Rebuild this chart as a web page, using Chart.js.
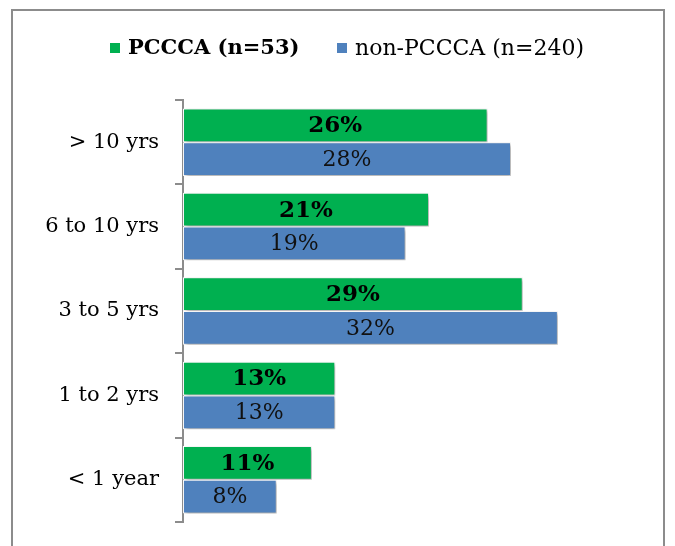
<!DOCTYPE html>
<html lang="en">
<head>
<meta charset="utf-8">
<title>PCCCA vs non-PCCCA</title>
<script src="https://cdn.jsdelivr.net/npm/chart.js"></script>
<style>
  body{margin:0;background:#fff;font-family:"DejaVu Serif",serif}
  #wrap{position:relative;width:675px;height:546px;overflow:hidden}
  #frame{position:absolute;left:11px;top:9px;width:654px;height:560px;border:2px solid #8c8c8c;box-sizing:border-box}
  canvas{position:absolute;left:0;top:0}
</style>
</head>
<body>
<div id="wrap">
<div id="frame"></div>
<canvas id="chart" width="675" height="546"></canvas>
</div>
<script>
const categories = ['> 10 yrs','6 to 10 yrs','3 to 5 yrs','1 to 2 yrs','< 1 year'];
const pcccaValues = [26,21,29,13,11];
const nonPcccaValues = [28,19,32,13,8];
const seriesNames = ['PCCCA (n=53)','non-PCCCA (n=240)'];

const FONT = '"DejaVu Serif", serif';

// soft drop shadow under the bars, like the office chart
const shadowPlugin = {
  id: 'shadow',
  beforeDatasetsDraw(chart) {
    const ctx = chart.ctx;
    ctx.save();
    ctx.shadowColor = 'rgba(0,0,0,0.35)';
    ctx.shadowBlur = 4;
    ctx.shadowOffsetX = 2;
    ctx.shadowOffsetY = 2;
  },
  afterDatasetsDraw(chart) {
    chart.ctx.restore();
  }
};

// value labels in the middle of each bar
const valueLabels = {
  id: 'valueLabels',
  afterDatasetsDraw(chart) {
    const ctx = chart.ctx;
    ctx.save();
    ctx.textAlign = 'center';
    ctx.textBaseline = 'middle';
    chart.data.datasets.forEach((ds, i) => {
      const meta = chart.getDatasetMeta(i);
      ctx.font = (i === 0 ? 'bold 23px ' : '22px ') + FONT;
      ctx.fillStyle = i === 0 ? '#000' : '#111';
      meta.data.forEach((bar, j) => {
        ctx.fillText(ds.data[j] + '%', (bar.x + bar.base) / 2, bar.y + 1);
      });
    });
    ctx.restore();
  }
};

// legend: first entry bold, second regular
const topLegend = {
  id: 'topLegend',
  afterDraw(chart) {
    const ctx = chart.ctx;
    const items = [
      { x: 110, font: 'bold 21px ' + FONT },
      { x: 337, font: '22px ' + FONT }
    ];
    ctx.save();
    ctx.textBaseline = 'middle';
    chart.data.datasets.forEach((ds, i) => {
      const it = items[i];
      ctx.fillStyle = ds.backgroundColor;
      ctx.fillRect(it.x, 43, 10, 10);
      ctx.fillStyle = '#000';
      ctx.font = it.font;
      ctx.fillText(ds.label, it.x + 18, 49);
    });
    ctx.restore();
  }
};

new Chart(document.getElementById('chart'), {
  type: 'bar',
  data: {
    labels: categories,
    datasets: [
      { label: seriesNames[0], data: pcccaValues, backgroundColor: '#00b050', borderColor: '#fff', borderWidth: 1, borderSkipped: false },
      { label: seriesNames[1], data: nonPcccaValues, backgroundColor: '#4f81bd', borderColor: '#fff', borderWidth: 1, borderSkipped: false }
    ]
  },
  options: {
    indexAxis: 'y',
    responsive: false,
    animation: false,
    layout: { padding: { top: 100, right: 82, bottom: 24, left: 0 } },
    datasets: { bar: { categoryPercentage: 0.8, barPercentage: 1 } },
    plugins: {
      legend: { display: false },
      tooltip: { enabled: false }
    },
    scales: {
      x: { display: false, min: 0, max: 35 },
      y: {
        afterFit(scale) {
          scale.width = 183;
          scale.paddingTop = 0;
          scale.paddingBottom = 0;
        },
        ticks: { color: '#000', font: { family: FONT, size: 21 }, padding: 16 },
        grid: { display: true, drawOnChartArea: false, drawTicks: true, tickLength: 8, color: '#8c8c8c', lineWidth: 2, offset: true },
        border: { display: true, color: '#8c8c8c', width: 2 }
      }
    }
  },
  plugins: [shadowPlugin, valueLabels, topLegend]
});
</script>
</body>
</html>
